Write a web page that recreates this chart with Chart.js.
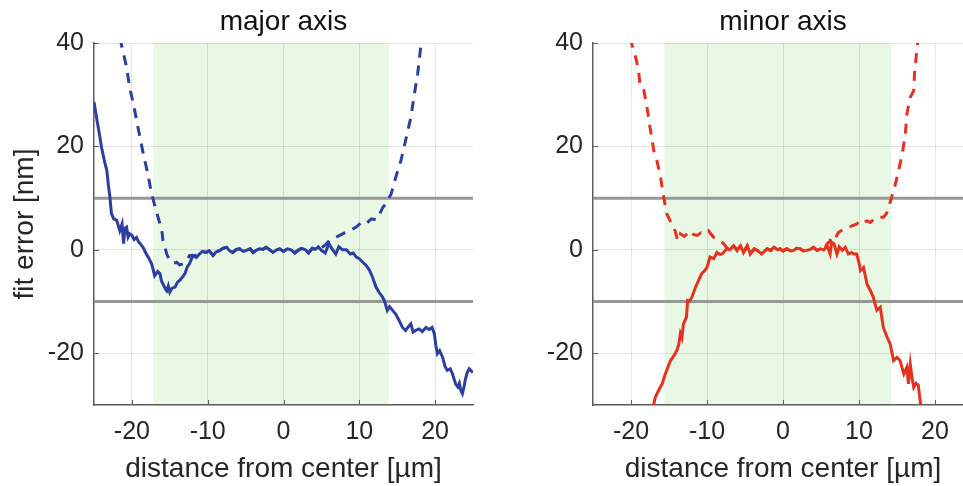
<!DOCTYPE html>
<html>
<head>
<meta charset="utf-8">
<script src="https://cdn.jsdelivr.net/npm/chart.js@4/dist/chart.umd.min.js"></script>
<style>
  html, body { margin: 0; padding: 0; background: #ffffff; overflow: hidden; width: 963px; height: 486px; }
  canvas { position: absolute; top: 0; }
  #majorCanvas { left: 0; }
  #minorCanvas { left: 490px; }
</style>
</head>
<body>
<canvas id="majorCanvas" width="490" height="486"></canvas>
<canvas id="minorCanvas" width="510" height="486"></canvas>
<script>
// ---- axis ticks and limits ----
const xTickValues = [-20, -10, 0, 10, 20];
const yTickValues = [-20, 0, 20, 40];
const xLimits = [-25, 25];
const yLimits = [-30, 40];
const thresholdLevels = [-10, 10];

// ---- fit window (shaded) ----
const majorWindow = [-17.2, 13.9];
const minorWindow = [-15.6, 14.2];

// ---- major axis: solid curve ----
const majorSolidX = [-25.0,-24.6,-24.3,-24.0,-23.6,-23.3,-23.1,-22.9,-22.7,-22.4,-22.0,-21.6,-21.3,-21.1,-20.9,-20.7,-20.5,-20.3,-20.0,-19.7,-19.4,-19.1,-18.9,-18.5,-18.1,-17.8,-17.4,-17.2,-17.0,-16.6,-16.3,-16.1,-15.9,-15.6,-15.4,-15.2,-15.0,-14.7,-14.3,-14.0,-13.7,-13.3,-13.0,-12.7,-12.4,-12.1,-11.9,-11.5,-11.1,-10.7,-10.2,-9.8,-9.3,-8.9,-8.4,-8.0,-7.5,-7.1,-6.7,-6.2,-5.8,-5.3,-4.9,-4.4,-4.0,-3.6,-3.2,-2.7,-2.3,-1.8,-1.4,-0.9,-0.5,0.0,0.5,1.0,1.5,2.0,2.4,2.9,3.3,3.8,4.2,4.6,5.0,5.5,6.0,6.4,6.9,7.3,7.8,8.3,8.8,9.2,9.6,10.0,10.4,10.9,11.3,11.75,12.2,12.6,13.0,13.3,13.7,14.0,14.4,14.8,15.2,15.7,16.1,16.5,16.8,17.1,17.5,17.9,18.3,18.8,19.2,19.6,19.9,20.1,20.3,20.6,21.0,21.3,21.6,22.0,22.3,22.7,23.0,23.2,23.4,23.6,23.8,24.0,24.25,24.5,24.7,25.0];
const majorSolidY = [28.6,25.0,22.5,19.8,17.0,15.3,12.5,10.2,7.0,6.0,5.7,3.7,5.0,1.2,4.2,4.4,2.5,3.1,2.8,2.0,2.4,1.5,1.2,0.4,-0.8,-1.5,-2.7,-3.8,-5.0,-4.2,-4.6,-6.0,-6.6,-7.5,-7.9,-7.0,-8.2,-7.4,-7.2,-6.3,-5.9,-5.2,-4.6,-3.3,-2.7,-1.6,-1.1,-1.5,-0.8,-0.3,-0.5,-0.2,-1.1,-0.4,-0.1,0.3,0.5,-0.2,-0.5,0.1,0.2,-0.3,-0.1,0.2,-0.5,-0.1,0.2,0.1,0.5,0.0,-0.5,0.0,0.2,-0.3,0.2,0.0,-0.6,0.0,0.3,0.0,-0.6,0.3,0.1,0.6,-0.1,-0.6,1.2,0.2,-0.8,0.6,0.0,0.0,-0.8,-0.6,-1.4,-1.7,-2.3,-3.0,-3.8,-5.3,-7.2,-8.2,-9.0,-9.8,-11.7,-11.0,-11.7,-12.4,-13.5,-15.0,-15.6,-14.8,-14.3,-15.9,-15.5,-15.3,-15.8,-15.0,-15.4,-15.0,-16.2,-18.5,-20.1,-19.5,-20.8,-22.5,-23.3,-23.0,-24.0,-25.9,-26.5,-25.8,-27.2,-27.8,-26.6,-25.0,-23.7,-23.0,-23.3,-23.7];

// ---- major axis: dashed curve ----
const majorDashX = [-21.6,-21.4,-20.7,-20.3,-19.8,-19.2,-18.5,-17.9,-17.4,-16.8,-16.3,-16.1,-15.9,-15.4,-15.0,-14.5,-14.1,-13.7,-13.25,-12.8,-12.4,-11.7,-11.1,-10.7,-10.2,-9.8,-9.3,-8.9,-8.4,-8.0,-7.5,-7.1,-6.7,-6.2,-5.8,-5.3,-4.9,-4.4,-4.0,-3.6,-3.2,-2.7,-2.3,-1.8,-1.4,-0.9,-0.5,0.0,0.5,1.0,1.5,2.0,2.4,2.9,3.3,3.8,4.2,4.6,5.0,5.5,6.05,6.9,7.8,8.7,9.6,10.4,11.0,11.6,12.2,12.7,13.1,13.5,14.2,14.8,15.5,16.1,16.8,17.2,17.7,18.1,18.4];
const majorDashY = [41.0,39.8,35.3,31.4,28.2,23.7,18.6,14.7,10.8,7.6,5.0,4.4,1.8,-0.8,-2.1,-2.6,-2.4,-2.9,-2.7,-2.1,-1.1,-1.1,-0.8,-0.3,-0.5,-0.2,-1.1,-0.4,-0.1,0.3,0.5,-0.2,-0.5,0.1,0.2,-0.3,-0.1,0.2,-0.5,-0.1,0.2,0.1,0.5,0.0,-0.5,0.0,0.2,-0.3,0.2,0.0,-0.6,0.0,0.3,0.0,-0.6,0.3,0.1,0.6,0.4,0.9,1.8,2.4,3.1,3.7,4.4,5.5,5.2,6.0,5.8,7.0,8.2,8.9,10.8,14.0,17.3,21.1,25.6,29.5,34.0,39.2,41.5];

// ---- minor axis: solid curve ----
const minorSolidX = [-17.3,-17.0,-16.8,-16.6,-16.3,-15.9,-15.6,-15.3,-14.8,-14.5,-14.2,-13.9,-13.7,-13.5,-13.3,-13.1,-12.7,-12.55,-12.3,-12.0,-11.5,-11.1,-10.7,-10.3,-10.0,-9.6,-9.1,-8.7,-8.3,-8.0,-7.4,-7.0,-6.5,-6.05,-5.6,-5.2,-4.7,-4.3,-3.8,-3.4,-2.8,-2.1,-1.6,-1.2,-0.7,-0.4,0.0,0.5,1.0,1.4,1.8,2.3,2.7,3.1,3.6,4.0,4.5,4.9,5.4,5.8,6.2,6.4,6.7,7.1,7.4,7.8,8.2,8.6,9.0,9.3,9.7,10.0,10.2,10.6,11.05,11.5,11.9,12.1,12.35,12.8,13.2,13.7,14.1,14.55,15.0,15.4,15.9,16.3,16.5,16.75,17.0,17.2,17.5,17.8,18.1,18.3];
const minorSolidY = [-31.0,-29.8,-28.5,-27.9,-27.0,-25.9,-24.5,-23.3,-21.4,-20.8,-20.1,-19.2,-18.2,-16.2,-17.0,-14.3,-13.0,-9.8,-9.9,-9.2,-7.2,-5.9,-4.6,-4.0,-3.4,-1.4,-1.7,-0.5,-0.9,-0.8,0.2,0.0,0.8,-0.1,0.8,-0.5,0.8,-0.8,0.2,-0.1,-0.8,0.2,-0.1,0.5,0.0,0.2,-0.2,0.2,-0.2,-0.1,0.3,0.2,-0.2,-0.1,0.1,0.5,-0.1,0.2,0.0,0.8,-0.8,1.5,1.2,-0.8,0.6,-0.1,0.5,-0.8,-0.5,-0.8,-0.8,-2.5,-4.0,-3.4,-6.6,-7.9,-9.2,-10.4,-11.7,-11.1,-15.0,-16.9,-18.2,-21.4,-20.8,-21.4,-24.0,-22.7,-25.9,-22.1,-25.0,-26.6,-25.8,-26.2,-29.8,-31.0];

// ---- minor axis: dashed curve ----
const minorDashX = [-20.0,-19.9,-19.4,-19.0,-18.8,-18.3,-17.9,-17.5,-17.0,-16.6,-16.1,-15.7,-15.3,-14.8,-14.4,-14.2,-13.9,-13.7,-13.5,-13.0,-12.6,-12.2,-11.8,-11.3,-10.8,-10.4,-9.8,-9.4,-9.1,-8.7,-8.25,-7.8,-7.4,-7.0,-6.5,-6.05,-5.6,-5.2,-4.7,-4.3,-3.8,-3.4,-2.8,-2.1,-1.6,-1.2,-0.7,-0.4,0.0,0.5,1.0,1.4,1.8,2.3,2.7,3.1,3.6,4.0,4.5,4.9,5.4,5.8,6.1,6.4,6.8,7.3,7.8,8.4,9.0,9.7,10.2,10.6,11.0,11.5,12.0,12.35,13.2,13.6,13.9,14.3,14.8,15.2,15.7,16.1,16.3,16.75,17.0,17.2,17.3,17.6,17.8];
const minorDashY = [41.0,39.8,37.3,34.7,31.5,30.8,27.6,23.7,19.2,17.3,14.0,10.2,7.0,5.5,4.4,3.7,2.0,1.8,3.1,2.6,3.1,3.7,3.0,2.8,3.3,3.1,3.7,2.9,2.4,2.2,1.8,1.2,0.4,0.0,0.8,-0.1,0.8,-0.5,0.8,-0.8,0.2,-0.1,-0.8,0.2,-0.1,0.5,0.0,0.2,-0.2,0.2,-0.2,-0.1,0.3,0.2,-0.2,-0.1,0.1,0.5,-0.1,0.2,0.0,1.2,1.5,2.4,2.0,3.4,3.8,4.1,4.6,5.0,5.7,5.3,5.6,5.3,6.0,6.3,6.3,7.0,8.2,10.2,12.8,15.3,18.6,22.4,26.3,29.5,30.2,30.8,34.0,38.5,41.0];

const FONT = '"Liberation Sans", Arial, Helvetica, sans-serif';
const TEXT_COLOR = '#262626';
const AXIS_COLOR = '#5c5c5c';

function toPoints(xs, ys) {
  return xs.map((x, i) => ({ x: x, y: ys[i] }));
}

// Shaded fit window behind the grid, inward tick marks, and a panel title
// centred over the plotting area.
const panelPlugin = {
  id: 'panel',
  beforeDraw(chart, args, opts) {
    const { ctx, chartArea, scales } = chart;
    const x0 = scales.x.getPixelForValue(opts.range[0]);
    const x1 = scales.x.getPixelForValue(opts.range[1]);
    ctx.save();
    ctx.fillStyle = 'rgb(233,248,229)';
    ctx.fillRect(x0, chartArea.top, x1 - x0, chartArea.bottom - chartArea.top);
    ctx.restore();
  },
  beforeDatasetsDraw(chart) {
    const { ctx, chartArea, scales } = chart;
    ctx.save();
    ctx.strokeStyle = AXIS_COLOR;
    ctx.lineWidth = 1;
    ctx.beginPath();
    xTickValues.forEach(v => {
      const px = Math.round(scales.x.getPixelForValue(v)) + 0.5;
      ctx.moveTo(px, chartArea.bottom);
      ctx.lineTo(px, chartArea.bottom - 5);
    });
    yTickValues.concat(thresholdLevels).forEach(v => {
      const py = Math.round(scales.y.getPixelForValue(v)) + 0.5;
      ctx.moveTo(chartArea.left, py);
      ctx.lineTo(chartArea.left + 5, py);
    });
    ctx.stroke();
    ctx.restore();
  },
  afterDraw(chart, args, opts) {
    const { ctx, chartArea } = chart;
    ctx.save();
    ctx.fillStyle = '#111111';
    ctx.font = '28px ' + FONT;
    ctx.textAlign = 'center';
    ctx.textBaseline = 'alphabetic';
    ctx.fillText(opts.title, (chartArea.left + chartArea.right) / 2, 30);
    ctx.restore();
  }
};

function makePanel(canvasId, title, color, solidX, solidY, dashX, dashY, windowRange, yAxisWidth, padRight, showYTitle) {
  const thresholdSets = thresholdLevels.map(level => ({
    data: xLimits.map(x => ({ x: x, y: level })),
    borderColor: '#979797',
    borderWidth: 3,
    pointRadius: 0,
    order: 10
  }));
  return new Chart(document.getElementById(canvasId), {
    type: 'line',
    data: {
      datasets: thresholdSets.concat([
        {
          data: toPoints(dashX, dashY),
          borderColor: color,
          borderWidth: 3,
          borderDash: [10, 8],
          pointRadius: 0,
          tension: 0,
          order: 2
        },
        {
          data: toPoints(solidX, solidY),
          borderColor: color,
          borderWidth: 3,
          pointRadius: 0,
          tension: 0,
          order: 1
        }
      ])
    },
    options: {
      responsive: false,
      animation: false,
      events: [],
      layout: { padding: { top: 43, right: padRight, bottom: 0, left: 0 } },
      plugins: {
        legend: { display: false },
        tooltip: { enabled: false },
        title: { display: false },
        panel: { range: windowRange, title: title }
      },
      scales: {
        x: {
          type: 'linear',
          min: xLimits[0],
          max: xLimits[1],
          afterBuildTicks: s => { s.ticks = xTickValues.map(v => ({ value: v })); },
          afterFit: s => { s.height = 81; },
          ticks: {
            color: TEXT_COLOR,
            font: { family: FONT, size: 25 },
            padding: 12,
            maxRotation: 0,
            callback: v => String(v)
          },
          grid: {
            color: 'rgba(40,40,40,0.12)',
            lineWidth: 1,
            drawTicks: false
          },
          border: { display: true, color: AXIS_COLOR, width: 1.5 },
          title: {
            display: true,
            text: 'distance from center [µm]',
            color: TEXT_COLOR,
            font: { family: FONT, size: 28 },
            padding: { top: 0, bottom: 0 }
          }
        },
        y: {
          type: 'linear',
          min: yLimits[0],
          max: yLimits[1],
          afterBuildTicks: s => { s.ticks = yTickValues.map(v => ({ value: v })); },
          afterFit: s => { s.width = yAxisWidth; },
          ticks: {
            color: TEXT_COLOR,
            font: { family: FONT, size: 25 },
            padding: 10,
            callback: v => String(v)
          },
          grid: {
            color: 'rgba(40,40,40,0.12)',
            lineWidth: 1,
            drawTicks: false
          },
          border: { display: true, color: AXIS_COLOR, width: 1.5 },
          title: {
            display: showYTitle,
            text: 'fit error [nm]',
            color: TEXT_COLOR,
            font: { family: FONT, size: 28 },
            padding: { top: 8, bottom: 0 }
          }
        }
      }
    },
    plugins: [panelPlugin]
  });
}

makePanel('majorCanvas', 'major axis', '#2c3fa0', majorSolidX, majorSolidY, majorDashX, majorDashY, majorWindow, 94, 17, true);
makePanel('minorCanvas', 'minor axis', '#e3321f', minorSolidX, minorSolidY, minorDashX, minorDashY, minorWindow, 103, 27, false);
</script>
</body>
</html>
